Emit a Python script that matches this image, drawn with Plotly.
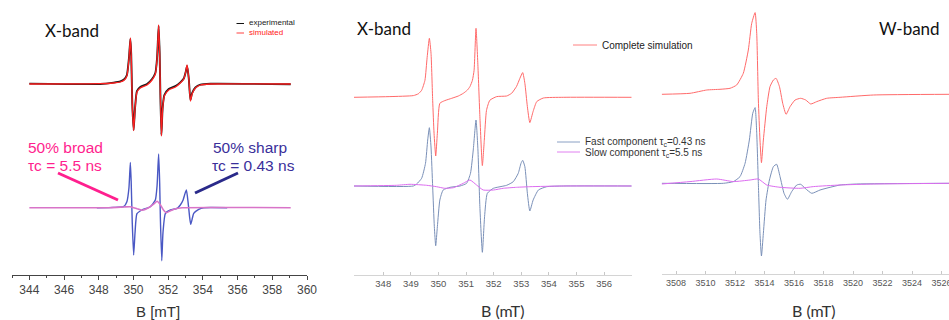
import plotly.graph_objects as go

# ---------------- Panel 1: X-band, experimental vs simulated ----------------
p1_field = [344.00, 348.08, 348.85, 349.24, 349.47, 349.62, 349.74, 349.82, 349.87, 349.93,
            350.01, 350.09, 350.20, 350.39, 350.78, 351.07, 351.26, 351.36, 351.45, 351.51,
            351.55, 351.61, 351.68, 351.78, 352.03, 352.42, 352.70, 352.90, 353.01, 353.09,
            353.19, 353.28, 353.38, 353.57, 353.86, 354.44, 359.06]
p1_simulated = [0, 0.3, 1, 2, 4, 8, 25, 46, 30, -20,
                -46.7, -25, -8, -4, -1, 4, 10, 25, 59, 30,
                -10, -52, -25, -12, -6, -3, 1, 5, 12, 19,
                5, -17, -10, -4, -1, 0, 0]
p1_experimental = [0.4, 0.0, 1.4, 2.6, 4.8, 9, 26, 45, 30, -19,
                   -46, -24, -7, -3, 0, 5, 11, 26, 58, 30,
                   -10, -51, -24, -11, -5, -2, 1.6, 5.5, 12, 18,
                   5, -16, -9, -3.5, -0.6, 0.3, -0.3]

p1_sharp_field = [347.89, 348.85, 349.43, 349.62, 349.74, 349.82, 349.87, 349.93, 350.01, 350.09,
                  350.20, 350.49, 350.97, 351.26, 351.36, 351.45, 351.51, 351.55, 351.63, 351.70,
                  351.84, 352.13, 352.51, 352.70, 352.86, 352.95, 353.05, 353.15, 353.24, 353.30,
                  353.40, 353.47, 353.76, 354.05, 355.40]
p1_sharp = [0, 0.3, 1, 6, 20, 45.3, 25, -15, -47.3, -25,
            -6, -2.3, 1, 7.7, 22, 53.7, 25, -10, -53, -25,
            -5.7, -2.3, -0.7, 2.7, 7.7, 13, 17.7, 5, -10, -16.7,
            -10, -5.7, -1.7, 0, 0]

p1_broad_field = [344.00, 348.66, 349.43, 349.82, 350.20, 350.49, 350.87, 351.16, 351.36, 351.55,
                  351.74, 351.90, 352.13, 352.42, 352.80, 359.06]
p1_broad = [0, 0, 0.7, 1, -1, -2.5, 0, 3.5, 6.5, 3,
            -2.5, -5, -3, -1, 0, 0]

p1_ticks = [344, 346, 348, 350, 352, 354, 356, 358, 360]

# ---------------- Panel 2: X-band simulation components ----------------
p2_total_field = [346.94, 348.24, 349.09, 349.27, 349.39, 349.51, 349.59, 349.67, 349.73, 349.79,
                  349.84, 349.90, 349.96, 350.05, 350.23, 350.48, 350.72, 350.90, 351.05, 351.14,
                  351.23, 351.29, 351.36, 351.43, 351.50, 351.59, 351.66, 351.74, 351.86, 352.11,
                  352.47, 352.65, 352.83, 352.95, 353.05, 353.13, 353.22, 353.31, 353.43, 353.56,
                  353.80, 354.52, 357.00]
p2_total = [0, 0.7, 1.7, 3.5, 7, 17, 40, 59, 44, -3,
            -36, -58.7, -36, -6, -3.3, -1, 1.3, 4, 7.3, 10.7,
            17, 27, 69, 31, -19, -68.3, -43, -13, -3, 0.7,
            1.3, 4, 11, 19, 24.7, 14, -9.3, -25.3, -14, -4.3,
            -0.7, 0, 0]

p2_fast_field = [346.94, 349.09, 349.21, 349.39, 349.53, 349.61, 349.67, 349.73, 349.79, 349.85,
                 349.90, 349.96, 350.05, 350.17, 350.42, 350.78, 351.02, 351.16, 351.26, 351.36,
                 351.43, 351.50, 351.59, 351.67, 351.77, 351.99, 352.47, 352.71, 352.89, 352.99,
                 353.05, 353.13, 353.22, 353.31, 353.43, 353.62, 353.92, 354.52, 357.00]
p2_fast = [0, 0, 2, 7.7, 22.7, 46, 58.3, 39, -0.7, -40.7,
           -59.7, -40.7, -14, -4, -1.3, 0, 2.7, 12.7, 36, 66,
           36, -20.7, -66.3, -30.7, -7.3, -2.3, 0.7, 4.3, 12.7, 22.7,
           25.7, 19.3, -7.3, -25, -14, -4, -0.7, 0, 0]

p2_slow_field = [346.94, 348.48, 348.97, 349.57, 349.93, 350.23, 350.54, 350.90, 351.14, 351.38,
                 351.62, 351.99, 352.35, 352.83, 353.31, 354.52, 357.00]
p2_slow = [0, 0.7, 1.7, 0.7, -0.7, -2.3, -1.7, 2.7, 6, 1,
           -4, -4, -2.3, -1.3, -0.7, 0, 0]

p2_ticks = [348, 349, 350, 351, 352, 353, 354, 355, 356]

# ---------------- Panel 3: W-band simulation components ----------------
p3_total_field = [3507.03, 3508.95, 3510.08, 3510.98, 3511.66, 3512.11, 3512.56, 3512.90, 3513.13, 3513.36,
                  3513.47, 3513.58, 3513.69, 3513.79, 3513.92, 3514.15, 3514.37, 3514.60, 3514.78, 3515.01,
                  3515.23, 3515.46, 3515.73, 3516.07, 3516.45, 3516.79, 3517.13, 3517.54, 3518.21, 3519.12,
                  3521.38, 3526.58]
p3_total = [0, 1, 4.3, 5, 6, 9.3, 21, 44.3, 71, 81.7,
            61, -5.7, -45.7, -68.3, -45.7, -12.3, 7.7, 14.3, 16, 7.7,
            -9, -20, -12.3, -5.7, -4, -5.7, -9.7, -7.3, -4, -3,
            -0.7, 0]

p3_fast_field = [3507.03, 3511.21, 3511.89, 3512.34, 3512.68, 3512.97, 3513.20, 3513.36, 3513.47, 3513.58,
                 3513.69, 3513.79, 3513.92, 3514.10, 3514.33, 3514.60, 3514.82, 3515.05, 3515.32, 3515.55,
                 3515.84, 3516.18, 3516.45, 3516.75, 3517.20, 3517.76, 3518.44, 3519.12, 3520.25, 3526.58]
p3_fast = [0, 0, 1.7, 6.7, 20, 43.3, 70, 75.7, 50, 0,
           -50, -72.7, -50, -16.7, 3.3, 16.7, 19, 6.7, -10, -16,
           -8.3, -1.7, -1, -5, -10, -6.7, -4, -1.7, -0.7, 0]

p3_slow_field = [3507.03, 3508.95, 3510.76, 3511.89, 3513.02, 3513.58, 3514.15, 3515.05, 3516.41, 3517.31,
                 3519.12, 3521.38, 3526.58]
p3_slow = [-0.7, 1.7, 4.3, 1.7, 3.3, 4.3, -1.7, -4, -5, -3.3,
           -1.7, -0.7, 0]

p3_ticks = [3508, 3510, 3512, 3514, 3516, 3518, 3520, 3522, 3524, 3526]

# ---------------- layout constants (pixels of a 949x320 canvas) ----------------
W, H = 949, 320
def px(x):
    return x / W
def py(y):
    return 1 - y / H

P1_TOP, P1_BOT = 84, 207.7
P2_TOP, P2_BOT = 97.3, 186
P3_TOP, P3_BOT = 94.3, 183.3

def shift(vals, base):
    return [v - base for v in vals]

fig = go.Figure()

def add(xs, ys, base, color, width, ax, name):
    fig.add_trace(go.Scatter(x=xs, y=shift(ys, base), mode="lines", name=name,
                             line=dict(color=color, width=width, shape="spline", smoothing=0.5),
                             xaxis=ax[0], yaxis=ax[1], showlegend=False, hoverinfo="skip",
                             cliponaxis=False))

# Panel 1
add(p1_field, p1_experimental, P1_TOP, "#1a1a1a", 1.9, ("x", "y"), "experimental")
add(p1_field, p1_simulated, P1_TOP, "#ff2020", 1.3, ("x", "y"), "simulated")
add(p1_sharp_field, p1_sharp, P1_BOT, "#4a58c4", 1.4, ("x", "y"), "50% sharp")
add(p1_broad_field, p1_broad, P1_BOT, "#d874c8", 1.6, ("x", "y"), "50% broad")
# Panel 2
add(p2_fast_field, p2_fast, P2_BOT, "#7a90b8", 1.0, ("x2", "y2"), "Fast component")
add(p2_slow_field, p2_slow, P2_BOT, "#dc6cf0", 1.0, ("x2", "y2"), "Slow component")
add(p2_total_field, p2_total, P2_TOP, "#ff6a6a", 1.0, ("x2", "y2"), "Complete simulation")
# Panel 3
add(p3_fast_field, p3_fast, P3_BOT, "#7a90b8", 1.0, ("x3", "y3"), "Fast component")
add(p3_slow_field, p3_slow, P3_BOT, "#dc6cf0", 1.0, ("x3", "y3"), "Slow component")
add(p3_total_field, p3_total, P3_TOP, "#ff6a6a", 1.0, ("x3", "y3"), "Complete simulation")

ydom = [1 - 275 / H, 1]
fig.update_layout(
    width=W, height=H, margin=dict(l=0, r=0, t=0, b=0, autoexpand=False),
    paper_bgcolor="white", plot_bgcolor="white",
    xaxis=dict(domain=[px(12), px(307)], range=[343, 360], anchor="y", automargin=False,
               tickvals=p1_ticks, ticks="outside", ticklen=4, tickcolor="#444",
               minor=dict(dtick=1, ticks="outside", ticklen=2, tickcolor="#444"),
               showline=True, linecolor="#444", linewidth=1, showgrid=False, zeroline=False,
               tickfont=dict(family="Liberation Sans, Arial", size=12, color="#444")),
    yaxis=dict(domain=ydom, range=[-275, 0], visible=False),
    xaxis2=dict(domain=[px(354), px(631.7)], range=[346.94, 357.0], anchor="y2", automargin=False,
                tickvals=p2_ticks, ticks="inside", ticklen=3, tickcolor="#c8c8c8",
                showline=True, linecolor="#d4d4d4", linewidth=1, showgrid=False, zeroline=False,
                tickfont=dict(family="Liberation Sans, Arial", size=9.5, color="#555")),
    yaxis2=dict(domain=ydom, range=[-275, 0], visible=False),
    xaxis3=dict(domain=[px(661.7), 1], range=[3507.03, 3526.5], anchor="y3", automargin=False,
                tickvals=p3_ticks, ticks="inside", ticklen=3, tickcolor="#c8c8c8",
                ticklabeloverflow="allow",
                showline=True, linecolor="#d4d4d4", linewidth=1, showgrid=False, zeroline=False,
                tickfont=dict(family="Liberation Sans, Arial", size=9, color="#555")),
    yaxis3=dict(domain=[1 - 274 / H, 1], range=[-274, 0], visible=False),
)

ann = []
def text(x, y, s, size, color="#111", family="Liberation Sans, Arial", xanchor="left"):
    ann.append(dict(x=px(x), y=py(y), xref="paper", yref="paper", text=s, showarrow=False,
                    xanchor=xanchor, yanchor="middle",
                    font=dict(family=family, size=size, color=color)))

# Panel 1 texts
text(43, 30, "X-band", 17, "#111", "Lato")
text(247, 22.5, "experimental", 8, "#222")
text(247, 32.5, "simulated", 8, "#ff2020")
text(26, 147, "50% broad", 15.5, "#ff1f8e")
text(26, 165, "τc = 5.5 ns", 15.5, "#ff1f8e")
text(211, 147, "50% sharp", 15.5, "#3a2f9a")
text(210, 165, "τc = 0.43 ns", 15.5, "#3a2f9a")
text(158, 311, "B [mT]", 15, "#333", xanchor="center")
# Panel 2 texts
text(355, 28, "X-band", 17, "#111", "Lato")
text(600, 45, "Complete simulation", 10, "#222")
text(583, 142, "Fast component τ<sub>c</sub>=0.43 ns", 10, "#333")
text(583, 153, "Slow component τ<sub>c</sub>=5.5 ns", 10, "#333")
text(503, 310, "B (mT)", 16, "#333", "Lato", xanchor="center")
# Panel 3 texts
text(877, 28, "W-band", 17, "#111", "Lato")
text(813, 310, "B (mT)", 16, "#333", "Lato", xanchor="center")
fig.update_layout(annotations=ann)

shapes = []
def seg(x0, y0, x1, y1, color, width):
    shapes.append(dict(type="line", xref="paper", yref="paper", x0=px(x0), y0=py(y0),
                       x1=px(x1), y1=py(y1), line=dict(color=color, width=width)))

seg(236.5, 23.5, 244, 23.5, "#111", 1)
seg(236.5, 33, 244, 33, "#ff4040", 1)
seg(58, 173, 118, 200, "#ff1f8e", 3)
seg(195, 193, 238, 173, "#2a2a8a", 3)
seg(573, 45, 597, 45, "#ff8080", 1)
seg(557, 142, 580, 142, "#8aa0c4", 1)
seg(557, 152, 580, 152, "#e080f0", 1)
fig.update_layout(shapes=shapes)

fig.write_html("out.html")
